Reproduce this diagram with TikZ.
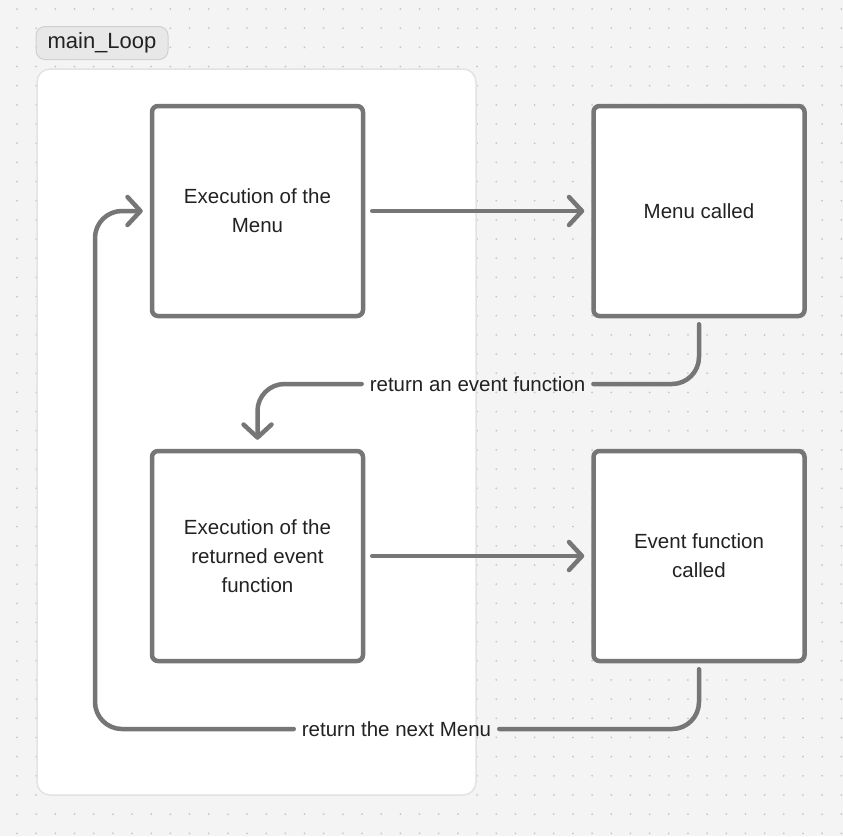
\documentclass[tikz,border=0pt]{standalone}
\usepackage{fontspec}
\setmainfont{Liberation Sans}
\usepackage{tikz}
\usetikzlibrary{arrows.meta,positioning}
\definecolor{paper}{HTML}{F4F4F4}
\definecolor{dotgray}{HTML}{C6C6C6}
\definecolor{edgegray}{HTML}{767676}
\definecolor{inkgray}{HTML}{222222}
\definecolor{tagfill}{HTML}{E8E8E8}
\definecolor{tagline}{HTML}{D0D0D0}
\definecolor{groupline}{HTML}{E3E3E3}
\tikzset{
	stepbox/.style={draw=edgegray, line width=4.5, rounded corners=6, fill=white, minimum width=211, minimum height=210, align=center, text=inkgray, inner sep=0, font=\fontsize{20.5}{29}\selectfont},
	flow/.style={draw=edgegray, line width=4.5, line cap=round, line join=round, rounded corners=27},
	tip/.style={-{Straight Barb[length=13,width=28,round]}},
	edgelabel/.style={text=inkgray, inner sep=8, font=\fontsize{20.5}{24}\selectfont}
}
\begin{document}
\begin{tikzpicture}[x=1pt,y=-1pt]
	\useasboundingbox (0,0) rectangle (843,836);
	\fill [paper] (0,0) rectangle (843,836);
	\foreach \i in {0, ..., 43} {
		\foreach \j in {0, ..., 43} {
			\fill [dotgray] (17+\i*19.17, 9+\j*19.17) circle (1);
		}
	}
	% the main_Loop group
	\draw [draw=groupline, fill=white, line width=1.5, rounded corners=13] (37,69) rectangle (476,795);
	\node (looptag) [fill=tagfill, draw=tagline, line width=1, rounded corners=9, minimum width=132, minimum height=33, inner sep=0, text=inkgray, font=\fontsize{22}{24}\selectfont] at (102,43) {main\_Loop};

	\node (runmenu) [stepbox] at (257.5,211) {Execution of the\\Menu};
	\node (menucalled) [stepbox] at (699,211) {Menu called};
	\node (runevent) [stepbox] at (257.5,556) {Execution of the\\returned event\\function};
	\node (eventcalled) [stepbox] at (699,556) {Event function\\called};

	\node (retevent) [edgelabel] at (477.5,384) {return an event function};
	\node (retmenu) [edgelabel] at (396.5,729) {return the next Menu};
	\coordinate (loopcorner) at (95,729);

	\draw [flow, tip, shorten <=7, shorten >=7] (runmenu.east) -- (menucalled.west);
	\draw [flow, tip, shorten <=7, shorten >=7] (runevent.east) -- (eventcalled.west);
	\draw [flow, shorten <=6] (menucalled.south) |- (retevent.east);
	\draw [flow, tip, shorten >=9] (retevent.west) -| (runevent.north);
	\draw [flow, shorten <=6] (eventcalled.south) |- (retmenu.east);
	\draw [flow, tip, shorten >=7] (retmenu.west) -- (loopcorner) |- (runmenu.west);
\end{tikzpicture}
\end{document}
